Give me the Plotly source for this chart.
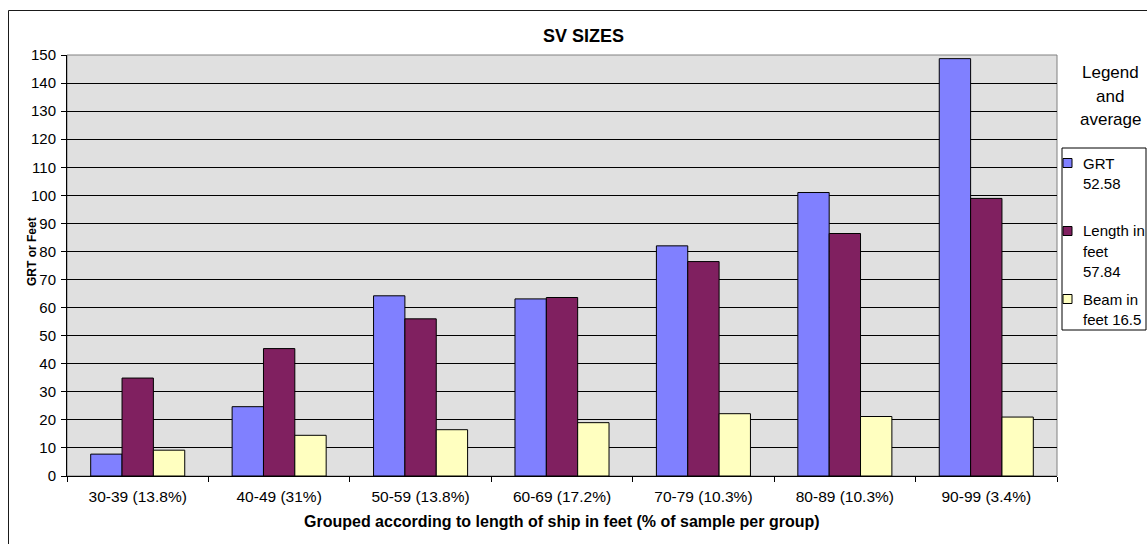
import plotly.graph_objects as go

# Size groups (by ship length in feet) and share of sample
categories = ["30-39 (13.8%)", "40-49 (31%)", "50-59 (13.8%)", "60-69 (17.2%)",
              "70-79 (10.3%)", "80-89 (10.3%)", "90-99 (3.4%)"]

grt = [7.8, 24.7, 64.2, 63.1, 82.0, 101.0, 148.7]
length_ft = [34.9, 45.4, 56.0, 63.6, 76.4, 86.4, 98.9]
beam_ft = [9.2, 14.5, 16.5, 19.0, 22.2, 21.2, 21.0]

series_names = ["GRT", "Length in feet", "Beam in feet"]
series_avgs = ["52.58", "57.84", "16.5"]
series_colors = ["#8080FF", "#802060", "#FFFFC0"]

y_ticks = list(range(0, 151, 10))

W, H = 1147, 544
L, R, T, B = 67, 1057, 55, 476   # plot area edges in pixels
FONT = "Liberation Sans, Arial, sans-serif"


def px(x):
    return (x - L) / (R - L)


def py(y):
    return (B - y) / (B - T)


fig = go.Figure()
for name, vals, col in zip(series_names, [grt, length_ft, beam_ft], series_colors):
    fig.add_trace(go.Bar(
        x=categories, y=vals, name=name,
        marker=dict(color=col, line=dict(color="#000000", width=1)),
        showlegend=False,
    ))

fig.update_layout(
    width=W, height=H,
    margin=dict(l=L, r=W - R, t=T, b=H - B, pad=0),
    paper_bgcolor="#FFFFFF",
    plot_bgcolor="#E0E0E0",
    barmode="group",
    bargap=0.335,
    bargroupgap=0,
    font=dict(family=FONT, color="#000000", size=15),
    xaxis=dict(
        type="category",
        showgrid=False,
        showline=True, linecolor="#000000", linewidth=1,
        ticks="outside", ticklen=5, tickcolor="#000000",
        tickson="boundaries",
        ticklabelstandoff=6,
        tickfont=dict(size=15.5),
        zeroline=False,
    ),
    yaxis=dict(
        range=[0, 150],
        tickvals=y_ticks,
        showgrid=True, gridcolor="#000000", gridwidth=1,
        showline=True, linecolor="#000000", linewidth=1,
        ticks="outside", ticklen=5, tickcolor="#000000",
        ticklabelstandoff=2,
        tickfont=dict(size=15),
        zeroline=False,
    ),
)

shapes = []
# Plot area frame
shapes.append(dict(type="rect", xref="paper", yref="paper", x0=0, y0=0, x1=1, y1=1,
                   line=dict(color="#808080", width=1), layer="below"))
# Outer chart frame
shapes.append(dict(type="rect", xref="paper", yref="paper",
                   x0=px(8.5), y0=py(560), x1=px(1160), y1=py(10.5),
                   line=dict(color="#1A1A1A", width=1)))
# Legend box
shapes.append(dict(type="rect", xref="paper", yref="paper",
                   x0=px(1062), y0=py(330), x1=px(1146), y1=py(148),
                   line=dict(color="#000000", width=1), fillcolor="#FFFFFF"))

annotations = [
    dict(text="<b>SV SIZES</b>", x=px(583), y=py(36), font=dict(size=18)),
    dict(text="<b>Grouped according to length of ship in feet (% of sample per group)</b>",
         x=px(562), y=py(521), font=dict(size=16)),
    dict(text="<b>GRT or Feet</b>", x=px(32), y=py(252), textangle=-90, font=dict(size=12)),
    dict(text="Legend", x=px(1110), y=py(72), font=dict(size=17)),
    dict(text="and", x=px(1110), y=py(96), font=dict(size=17)),
    dict(text="average", x=px(1110), y=py(120), font=dict(size=17)),
]

# Legend entries: marker square plus wrapped label lines
legend_rows = [
    (163, [(163, "GRT"), (183, series_avgs[0])]),
    (231, [(231, "Length in"), (251, "feet"), (271, series_avgs[1])]),
    (299, [(299, "Beam in"), (319, "feet " + series_avgs[2])]),
]
for (my, lines), col in zip(legend_rows, series_colors):
    shapes.append(dict(type="rect", xref="paper", yref="paper",
                       x0=px(1063), y0=py(my + 4.5), x1=px(1072), y1=py(my - 4.5),
                       fillcolor=col, line=dict(color="#000000", width=1)))
    for ly, txt in lines:
        annotations.append(dict(text=txt, x=px(1081), y=py(ly), xanchor="left",
                                font=dict(size=15)))

for a in annotations:
    a.setdefault("xref", "paper")
    a.setdefault("yref", "paper")
    a.setdefault("showarrow", False)
    a.setdefault("xanchor", "center")
    a.setdefault("yanchor", "middle")

fig.update_layout(shapes=shapes, annotations=annotations)
fig.write_html("out.html")
